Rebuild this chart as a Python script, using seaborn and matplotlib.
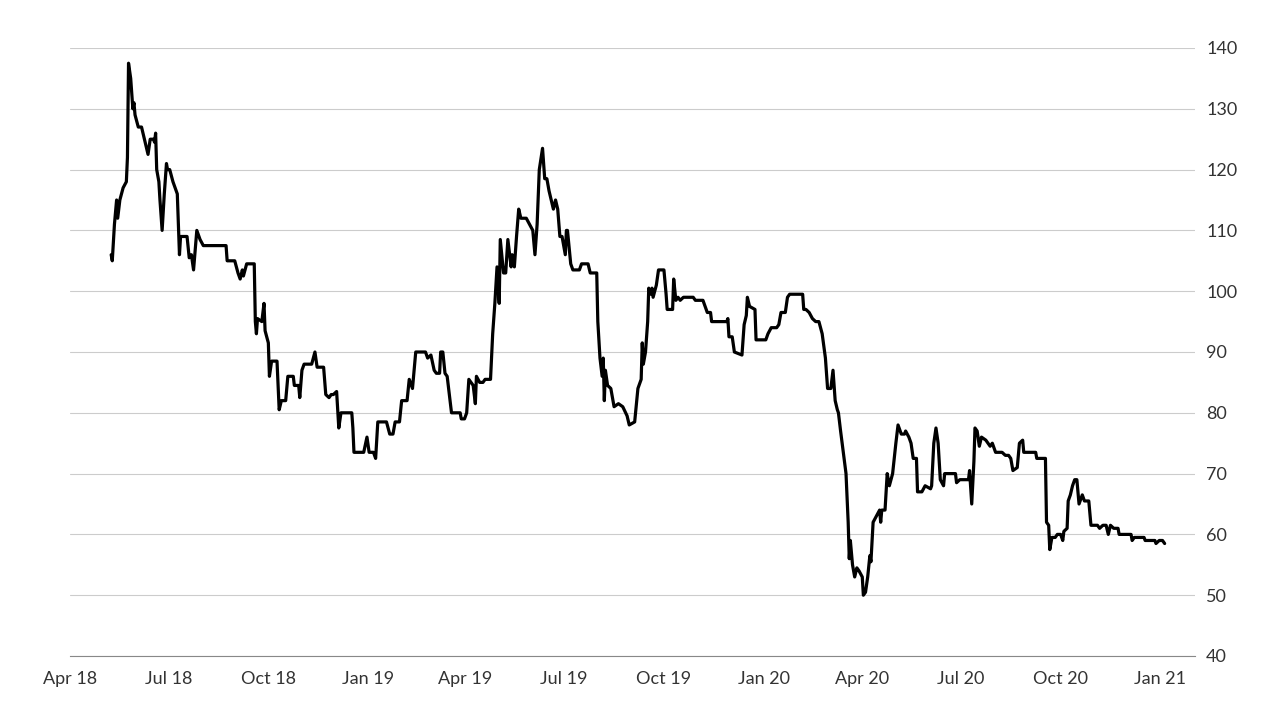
import pandas as pd
import seaborn as sns
import matplotlib
matplotlib.use("Agg")
import matplotlib.pyplot as plt
import matplotlib.dates as mdates

# Days since 2018-04-01 and value
day_offsets = [
    38, 39, 41, 43, 44, 46, 49, 52, 53, 54, 56, 58, 59, 60, 63, 66, 70, 72, 74, 77, 78, 79, 80, 82, 83, 85, 87, 89, 90, 92,
    95, 99, 101, 102, 108, 110, 112, 114, 117, 120, 123, 144, 145, 152, 155, 157, 159, 160, 163, 170, 171, 172, 173, 177,
    179, 180, 183, 184, 186, 191, 193, 195, 199, 201, 206, 207, 211, 212, 214, 216, 223, 226, 228, 234, 236, 239, 241, 243,
    246, 248, 250, 260, 261, 262, 271, 274, 276, 280, 282, 284, 292, 295, 298, 300, 304, 306, 311, 313, 316, 319, 328, 330,
    333, 336, 338, 341, 342, 344, 346, 348, 352, 360, 361, 364, 366, 368, 372, 374, 375, 378, 381, 383, 388, 390, 392, 394,
    396, 397, 400, 402, 404, 407, 408, 410, 412, 414, 416, 421, 424, 427, 429, 431, 433, 436, 438, 440, 442, 444, 446, 448,
    450, 452, 454, 457, 458, 459, 462, 464, 470, 472, 478, 480, 486, 487, 489, 491, 492, 493, 494, 496, 499, 502, 506, 510,
    514, 516, 521, 524, 527, 528, 529, 531, 533, 534, 536, 537, 538, 541, 543, 548, 550, 551, 556, 557, 559, 561, 563, 566,
    575, 577, 584, 586, 588, 591, 592, 606, 607, 608, 611, 613, 620, 622, 624, 625, 627, 632, 633, 642, 644, 647, 652, 654,
    656, 660, 662, 664, 676, 677, 679, 682, 685, 688, 691, 694, 697, 699, 702, 704, 706, 708, 709, 711, 716, 718, 719, 720,
    722, 724, 726, 728, 731, 732, 734, 736, 738, 739, 741, 744, 747, 748, 749, 752, 754, 756, 759, 762, 764, 767, 770, 771,
    774, 776, 778, 781, 782, 786, 789, 794, 795, 797, 799, 801, 803, 806, 807, 817, 818, 821, 829, 830, 832, 834, 835, 837,
    839, 841, 845, 847, 849, 851, 854, 860, 863, 866, 868, 870, 874, 876, 879, 880, 891, 892, 900, 901, 903, 904, 906, 909,
    911, 914, 916, 917, 920, 921, 923, 925, 927, 929, 930, 931, 934, 936, 940, 942, 948, 950, 953, 956, 958, 960, 963, 967,
    968, 979, 980, 982, 991, 992, 1001, 1002, 1005, 1008, 1010,
]
values = [
    106, 105, 111, 115, 112, 115, 117, 118, 122, 137.5, 135, 130, 131, 129, 127, 127, 124, 122.5, 125, 125, 124.5, 126, 120,
    118, 115, 110, 116, 121, 120, 120, 118, 116, 106, 109, 109, 105.5, 106, 103.5, 110, 108.5, 107.5, 107.5, 105, 105, 103,
    102, 103.5, 102.5, 104.5, 104.5, 95, 93, 95.5, 95, 98, 93.5, 91.5, 86, 88.5, 88.5, 80.5, 82, 82, 86, 86, 84.5, 84.5,
    82.5, 87, 88, 88, 90, 87.5, 87.5, 83, 82.5, 83, 83, 83.5, 77.5, 80, 80, 77.5, 73.5, 73.5, 76, 73.5, 73.5, 72.5, 78.5,
    78.5, 76.5, 76.5, 78.5, 78.5, 82, 82, 85.5, 84, 90, 90, 89, 89.5, 87, 86.5, 86.5, 90, 90, 86.5, 86, 80, 80, 79, 79, 80,
    85.5, 84.5, 81.5, 86, 85, 85, 85.5, 85.5, 93, 98, 104, 98, 108.5, 103, 103, 108.5, 104, 106, 104, 109, 113.5, 112, 112,
    111, 110, 106, 111, 120, 123.5, 118.5, 118.5, 116.5, 115, 113.5, 115, 113.5, 109, 109, 106, 110, 110, 104.5, 103.5,
    103.5, 104.5, 104.5, 103, 103, 95, 89, 86, 89, 82, 87, 84.5, 84, 81, 81.5, 81, 79.5, 78, 78.5, 84, 85.5, 91.5, 88, 90,
    95, 100.5, 99.5, 100.5, 99, 101, 103.5, 103.5, 99.5, 97, 97, 102, 98.5, 99, 98.5, 99, 99, 98.5, 98.5, 97.5, 96.5, 96.5,
    95, 95, 95.5, 92.5, 92.5, 90, 89.5, 94.5, 96, 99, 97.5, 97, 92, 92, 93, 94, 94, 94.5, 96.5, 96.5, 99, 99.5, 99.5, 97,
    97, 96.5, 95.5, 95, 95, 93, 89, 84, 84, 87, 82, 80.5, 80, 77, 70, 62, 56, 59, 55, 53, 54.5, 54, 53, 50, 50.5, 53, 56.5,
    55.5, 62, 63, 64, 62, 64, 64, 70, 68, 70, 75, 78, 76.5, 76.5, 77, 76, 75, 72.5, 72.5, 67, 67, 68, 67.5, 68, 75, 77.5,
    75, 69, 68, 70, 70, 68.5, 69, 69, 70.5, 65, 72, 77.5, 77, 74.5, 76, 75.5, 75, 74.5, 75, 73.5, 73.5, 73, 73, 72.5, 70.5,
    71, 75, 75.5, 73.5, 73.5, 72.5, 72.5, 62, 61.5, 57.5, 59.5, 59.5, 60, 60, 59, 60.5, 61, 65.5, 66.5, 68, 69, 69, 67, 65,
    66.5, 65.5, 65.5, 61.5, 61.5, 61, 61.5, 61.5, 60, 61.5, 61, 61, 60, 60, 59, 59.5, 59.5, 59, 59, 58.5, 59, 59, 58.5,
]
tick_labels = ["Apr 18", "Jul 18", "Oct 18", "Jan 19", "Apr 19", "Jul 19", "Oct 19",
               "Jan 20", "Apr 20", "Jul 20", "Oct 20", "Jan 21"]
tick_dates = pd.date_range("2018-04-01", "2021-01-01", freq="QS")

df = pd.DataFrame({
    "date": pd.Timestamp("2018-04-01") + pd.to_timedelta(day_offsets, unit="D"),
    "value": values,
})

sns.set_style("white")
plt.rcParams["font.family"] = ["Lato", "DejaVu Sans"]

fig = plt.figure(figsize=(12.8, 7.2), dpi=100)
ax = fig.add_axes([70 / 1280, 64 / 720, 1125 / 1280, 608 / 720])
sns.lineplot(data=df, x="date", y="value", color="black", linewidth=2.3, ax=ax)

ax.set_ylim(40, 140)
ax.set_yticks(range(40, 141, 10))
ax.set_xlim(pd.Timestamp("2018-04-01"), pd.Timestamp("2021-02-02"))
ax.set_xticks(tick_dates)
ax.set_xticklabels(tick_labels)
ax.yaxis.tick_right()
ax.grid(axis="y", color="#cccccc", linewidth=0.8)
ax.set_axisbelow(True)
for s in ["top", "left", "right"]:
    ax.spines[s].set_visible(False)
ax.spines["bottom"].set_color("#888888")
ax.tick_params(axis="x", length=5, color="#888888", labelsize=13, labelcolor="#333333", pad=6)
ax.tick_params(axis="y", length=0, labelsize=13, labelcolor="#333333", pad=8)
ax.set_xlabel("")
ax.set_ylabel("")

fig.savefig("out.png", dpi=100)
